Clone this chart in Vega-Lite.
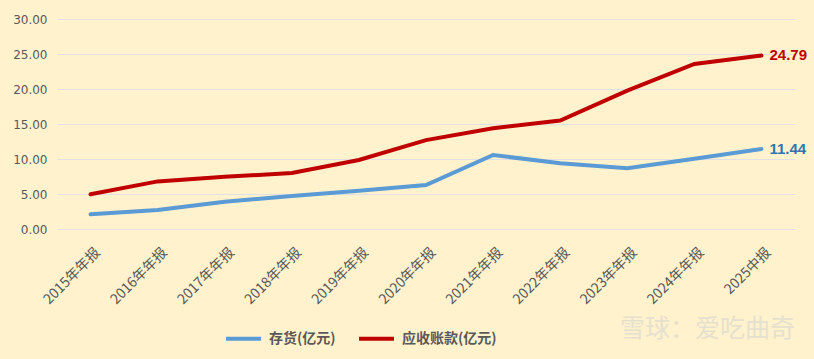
{
  "$schema": "https://vega.github.io/schema/vega-lite/v6.json",
  "width": 738,
  "height": 210,
  "autosize": "none",
  "padding": {"left": 57, "top": 19, "right": 19, "bottom": 130},
  "background": "#FFF2CC",
  "config": {
    "view": {"stroke": null},
    "font": "Noto Sans CJK SC"
  },
  "title": {
    "text": "雪球：爱吃曲奇",
    "orient": "bottom",
    "anchor": "end",
    "fontSize": 25,
    "fontWeight": "normal",
    "color": "#E6E0CF",
    "font": "Noto Sans CJK SC",
    "offset": -30,
    "dx": -12
  },
  "data": {
    "values": [
      {"period": "2015年年报", "series": "存货(亿元)", "value": 2.10},
      {"period": "2016年年报", "series": "存货(亿元)", "value": 2.70},
      {"period": "2017年年报", "series": "存货(亿元)", "value": 3.90},
      {"period": "2018年年报", "series": "存货(亿元)", "value": 4.70},
      {"period": "2019年年报", "series": "存货(亿元)", "value": 5.47},
      {"period": "2020年年报", "series": "存货(亿元)", "value": 6.29},
      {"period": "2021年年报", "series": "存货(亿元)", "value": 10.57},
      {"period": "2022年年报", "series": "存货(亿元)", "value": 9.38},
      {"period": "2023年年报", "series": "存货(亿元)", "value": 8.67},
      {"period": "2024年年报", "series": "存货(亿元)", "value": 10.05},
      {"period": "2025中报", "series": "存货(亿元)", "value": 11.44, "label": "11.44"},
      {"period": "2015年年报", "series": "应收账款(亿元)", "value": 4.96},
      {"period": "2016年年报", "series": "应收账款(亿元)", "value": 6.80},
      {"period": "2017年年报", "series": "应收账款(亿元)", "value": 7.45},
      {"period": "2018年年报", "series": "应收账款(亿元)", "value": 8.00},
      {"period": "2019年年报", "series": "应收账款(亿元)", "value": 9.86},
      {"period": "2020年年报", "series": "应收账款(亿元)", "value": 12.70},
      {"period": "2021年年报", "series": "应收账款(亿元)", "value": 14.40},
      {"period": "2022年年报", "series": "应收账款(亿元)", "value": 15.50},
      {"period": "2023年年报", "series": "应收账款(亿元)", "value": 19.76},
      {"period": "2024年年报", "series": "应收账款(亿元)", "value": 23.57},
      {"period": "2025中报", "series": "应收账款(亿元)", "value": 24.79, "label": "24.79"}
    ]
  },
  "encoding": {
    "x": {
      "field": "period",
      "type": "ordinal",
      "sort": null,
      "scale": {"type": "point", "padding": 0.5},
      "axis": {
        "title": null,
        "labelAngle": -45,
        "labelAlign": "right",
        "labelBaseline": "middle",
        "labelFontSize": 14,
        "labelColor": "#595959",
        "labelFont": "Noto Sans CJK SC",
        "labelPadding": 21,
        "labelOffset": 7,
        "ticks": false,
        "domain": false,
        "grid": false
      }
    },
    "y": {
      "field": "value",
      "type": "quantitative",
      "scale": {"domain": [0, 30], "nice": false},
      "axis": {
        "title": null,
        "values": [0, 5, 10, 15, 20, 25, 30],
        "format": ".2f",
        "labelFont": "DejaVu Sans",
        "labelFontSize": 12,
        "labelColor": "#595959",
        "labelPadding": 10,
        "ticks": false,
        "domain": false,
        "gridColor": "#E2E0E6",
        "gridWidth": 1
      }
    },
    "color": {
      "field": "series",
      "type": "nominal",
      "sort": null,
      "scale": {"domain": ["存货(亿元)", "应收账款(亿元)"], "range": ["#5B9BD5", "#C00000"]},
      "legend": {
        "title": null,
        "orient": "none",
        "legendX": 167,
        "legendY": 300,
        "direction": "horizontal",
        "symbolType": "stroke",
        "symbolSize": 1225,
        "symbolStrokeWidth": 4,
        "labelFontSize": 14,
        "labelFont": "Noto Sans CJK SC",
        "labelColor": "#595959",
        "labelFontWeight": "bold",
        "columnPadding": 15,
        "labelOffset": 6
      }
    }
  },
  "layer": [
    {
      "mark": {"type": "line", "strokeWidth": 4, "strokeCap": "round"}
    },
    {
      "transform": [{"filter": "isValid(datum.label)"}],
      "mark": {"type": "text", "align": "left", "dx": 8, "font": "Liberation Sans", "fontSize": 15, "fontWeight": "bold"},
      "encoding": {
        "text": {"field": "label"},
        "color": {
          "condition": {"test": "datum.series === '存货(亿元)'", "value": "#2E75B6"},
          "value": "#C00000"
        }
      }
    }
  ]
}
